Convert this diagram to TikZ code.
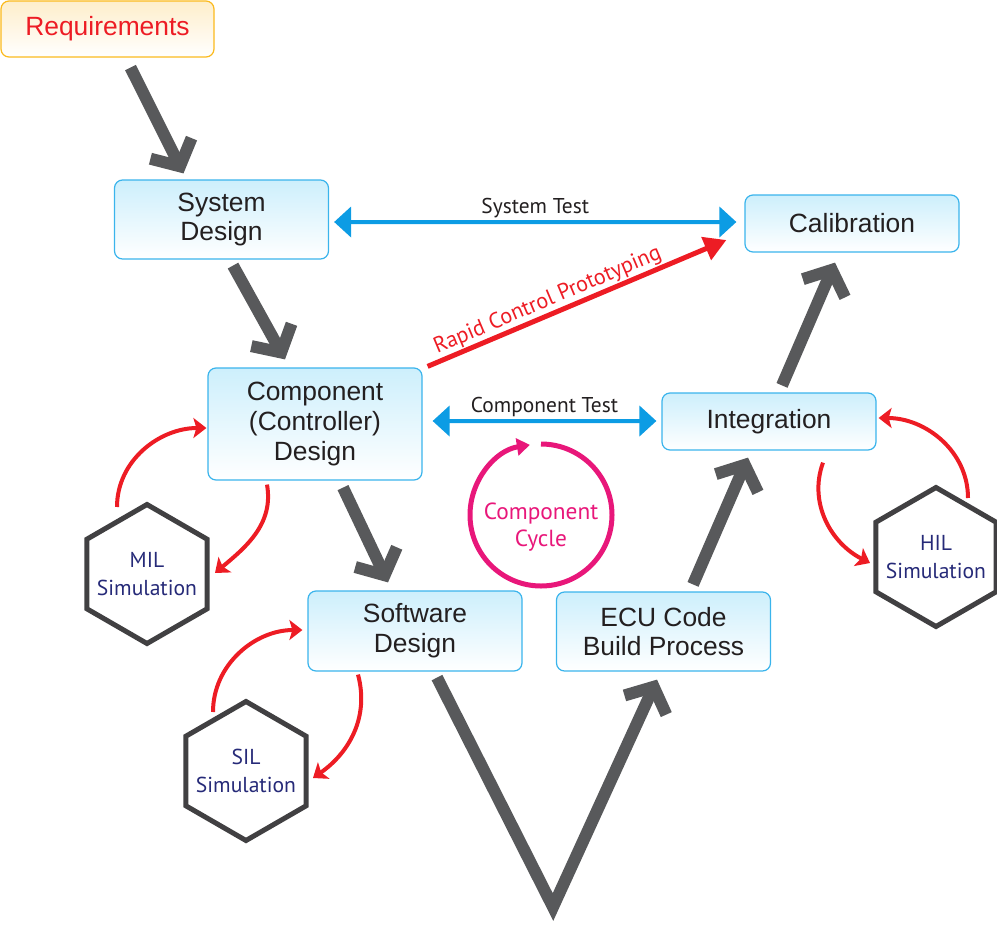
\documentclass[tikz,border=0pt]{standalone}
\usepackage{fontspec}
\setmainfont{Liberation Sans}
\newfontfamily\labelfont{PT Sans}
\usetikzlibrary{arrows.meta,shapes.geometric}

\definecolor{arrowgray}{HTML}{58595B}
\definecolor{boxblue}{HTML}{3AB4EC}
\definecolor{boxtop}{HTML}{CDEFFC}
\definecolor{testblue}{HTML}{0C9CE4}
\definecolor{simred}{HTML}{ED1C24}
\definecolor{cyclepink}{HTML}{E8177A}
\definecolor{hexgray}{HTML}{414042}
\definecolor{hexnavy}{HTML}{262A78}
\definecolor{reqborder}{HTML}{FBBA1E}
\definecolor{reqtop}{HTML}{FEEECB}
\definecolor{inkblack}{HTML}{231F20}

\begin{document}
\begin{tikzpicture}[x=1bp,y=1bp,
  stage/.style={draw=boxblue,line width=1.2bp,rounded corners=8bp,top color=boxtop,bottom color=white,
    minimum width=214bp,inner sep=0pt,align=center,text=inkblack,font=\fontsize{26.5}{30}\selectfont},
  reqbox/.style={stage,draw=reqborder,top color=reqtop,text=simred},
  simhex/.style={draw=hexgray,line width=5bp,regular polygon,regular polygon sides=6,shape border rotate=30,
    minimum size=139bp,inner sep=0pt},
  hexlabel/.style={align=center,inner sep=0pt,text=hexnavy,font=\labelfont\fontsize{21.7}{28}\selectfont},
  bigarrow/.style={draw=arrowgray,line width=12bp,-{Straight Barb[length=20bp,width=46bp]}},
  testarrow/.style={draw=testblue,line width=4bp,{Triangle[length=17bp,width=30bp]}-{Triangle[length=17bp,width=30bp]}},
  testlabel/.style={text=inkblack,inner sep=2bp,font=\labelfont\fontsize{21.5}{26}\selectfont},
  rcparrow/.style={draw=simred,line width=5bp,-{Triangle[length=22bp,width=24bp]}},
  simarrow/.style={draw=simred,line width=4bp,-{Stealth[length=13bp,width=20bp,inset=3bp]}},
  cyclearrow/.style={draw=cyclepink,line width=5bp,-{Triangle[length=13bp,width=17bp]}}]
\useasboundingbox (0,0) rectangle (997,-933);

\node[reqbox,minimum width=213bp,minimum height=56bp] (req) at (107.5,-29) {Requirements};
\node[stage,minimum height=79bp] (sd) at (221.5,-219.5) {System\\Design};
\node[stage,minimum height=57bp] (cal) at (852,-223.5) {Calibration};
\node[stage,minimum height=112bp] (cd) at (315,-424) {Component\\(Controller)\\Design};
\node[stage,minimum height=57bp] (integ) at (769,-421.5) {Integration};
\node[stage,minimum height=80bp] (sw) at (415,-631) {Software\\Design};
\node[stage,minimum height=79bp] (ecu) at (663.5,-631.5) {ECU Code\\Build Process};

\foreach \n/\x/\y/\t in {mil/147/-574/MIL, sil/246/-771/SIL, hil/936/-557/HIL}
  \node[simhex,label={[hexlabel]center:{\t\\Simulation}}] (\n) at (\x,\y) {};

\coordinate (vbot) at (553,-907);
\draw[bigarrow] ([xshift=23bp,yshift=-10bp]req.south) -- ([xshift=-38bp,yshift=6bp]sd.north);
\draw[bigarrow] ([xshift=11.5bp,yshift=-6bp]sd.south) -- ([xshift=-30bp,yshift=8bp]cd.north);
\draw[bigarrow] ([xshift=28bp,yshift=-7bp]cd.south) -- ([xshift=-27bp,yshift=8bp]sw.north);
\draw[bigarrow,miter limit=20] ([xshift=22bp,yshift=-6bp]sw.south) -- (vbot) -- ([xshift=-6.5bp,yshift=-8bp]ecu.south);
\draw[bigarrow] ([xshift=29.5bp,yshift=7bp]ecu.north) -- ([xshift=-21bp,yshift=-7bp]integ.south);
\draw[bigarrow] ([xshift=13bp,yshift=7bp]integ.north) -- ([xshift=-17bp,yshift=-10bp]cal.south);

\draw[testarrow] ([xshift=5bp,yshift=-2.5bp]sd.east) -- ([xshift=-8bp,yshift=1.5bp]cal.west)
  node[testlabel,midway,above] (systest) {System Test};
\draw[testarrow] ([xshift=10bp,yshift=3bp]cd.east) -- ([xshift=-5bp,yshift=0.5bp]integ.west)
  node[testlabel,midway,above] (comptest) {Component Test};
\draw[rcparrow] ([xshift=5bp,yshift=1bp]cd.north east) -- ([xshift=-18bp,yshift=-16.5bp]cal.west)
  node[testlabel,text=simred,font=\labelfont\fontsize{22.2}{26}\selectfont,pos=0.42,above,sloped,inner sep=1bp] (rcp) {Rapid Control Prototyping};

\draw[simarrow] ([shift={(-30,67)}]mil.center) to[out=90,in=180] ([xshift=-1bp,yshift=-4bp]cd.west);
\draw[simarrow] ([xshift=-48bp,yshift=-4bp]cd.south) to[out=-80,in=40] ([shift={(68,1)}]mil.center);
\draw[simarrow] ([shift={(-33,59)}]sil.center) to[out=90,in=180] ([xshift=-5bp,yshift=1bp]sw.west);
\draw[simarrow] ([xshift=-57bp,yshift=-3bp]sw.south) to[out=-75,in=35] ([shift={(67,-7)}]sil.center);
\draw[simarrow] ([xshift=54bp,yshift=-12bp]integ.south) to[out=250,in=153] ([shift={(-66,-6)}]hil.center);
\draw[simarrow] ([shift={(32,59)}]hil.center) to[out=90,in=0] ([xshift=2bp,yshift=3.5bp]integ.east);

\coordinate (cyc) at (541,-515);
\node[testlabel,text=cyclepink,align=center,font=\labelfont\fontsize{23.4}{27}\selectfont] (cyclelbl) at (541,-527) {Component\\Cycle};
\draw[cyclearrow] ([shift={(90:71bp)}]cyc) arc[start angle=90,end angle=-261,radius=71bp];
\end{tikzpicture}
\end{document}
